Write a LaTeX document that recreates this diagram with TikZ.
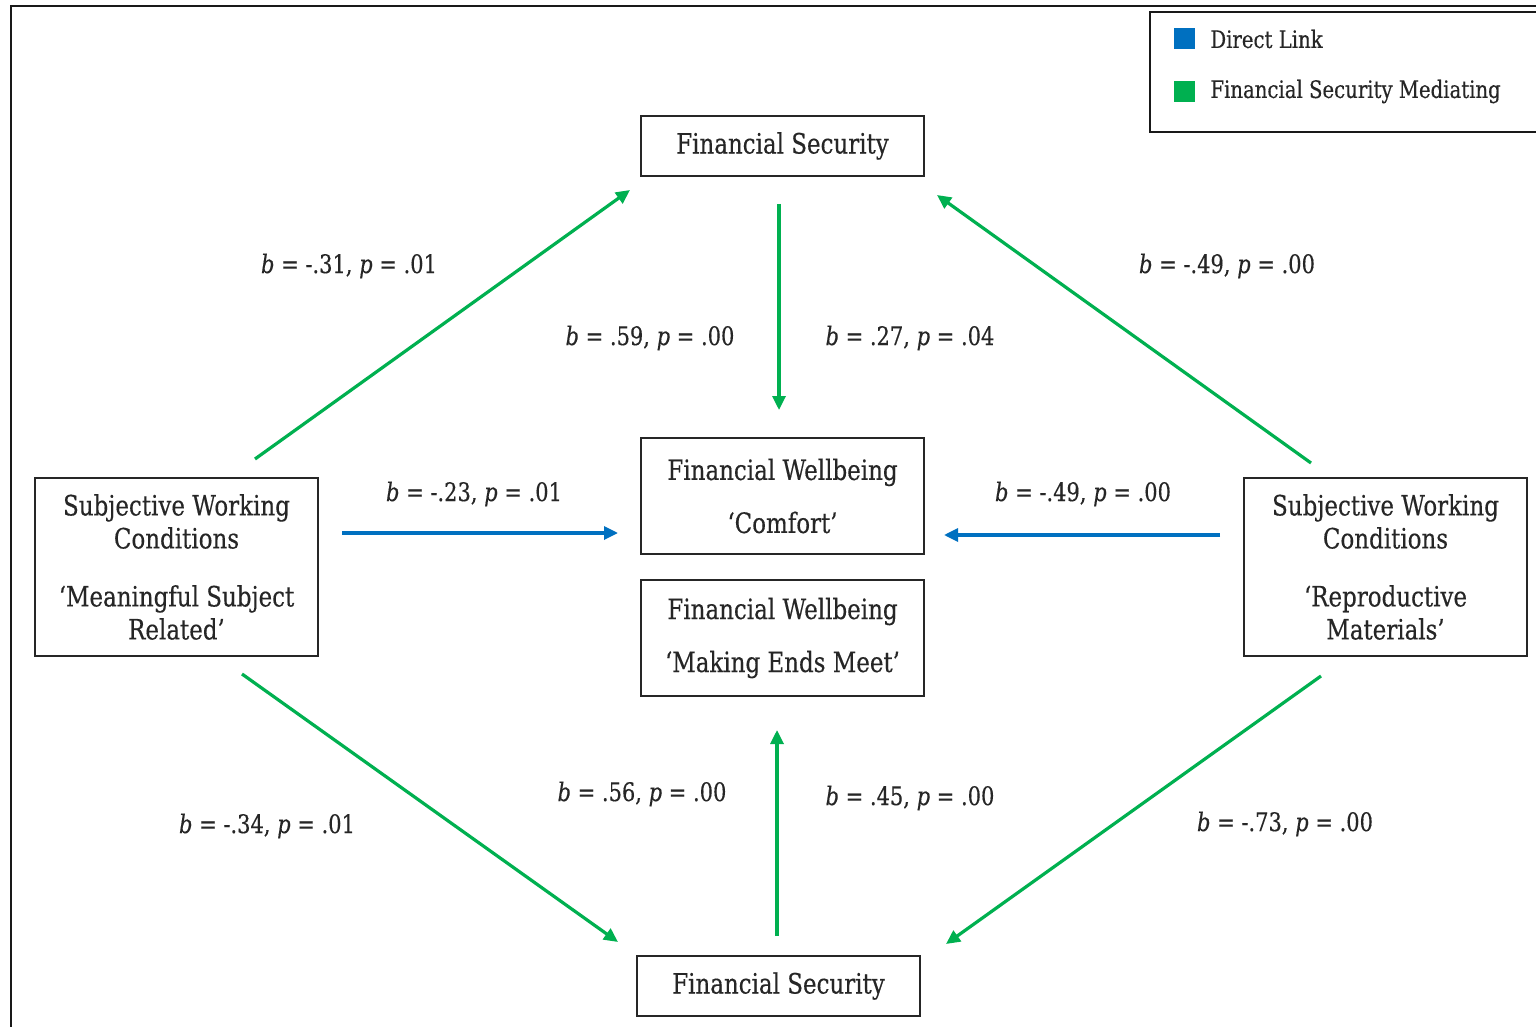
\documentclass[tikz,border=0pt]{standalone}
\usepackage{fontspec}
\setmainfont{DejaVu Serif}[FakeStretch=0.82, FakeBold=0.35]
\usetikzlibrary{arrows.meta}
\definecolor{linkblue}{HTML}{0070C0}
\definecolor{medgreen}{HTML}{00B050}
\definecolor{inkgrey}{HTML}{262626}
\begin{document}
\begin{tikzpicture}[x=0.5pt,y=-0.5pt,
  box/.style={draw=black!85, line width=1pt, minimum width=141.5pt, inner sep=0pt,
    align=center, text=inkgrey, font=\fontsize{14}{16.5}\selectfont},
  coef/.style={font=\fontsize{12.8}{14}\selectfont, inner sep=0pt, text=inkgrey},
  keytext/.style={font=\fontsize{12}{14}\selectfont, inner sep=0pt, anchor=west, text=inkgrey},
  keysq/.style={inner sep=0pt, minimum size=10.5pt},
  medarrow/.style={draw=medgreen, line width=1.6pt, -{Triangle[length=7pt,width=6.5pt]}},
  directarrow/.style={draw=linkblue, line width=1.6pt, -{Triangle[length=7pt,width=6.5pt]}}]

% page area and outer frame
\clip (0,0) rectangle (1536,1027);
\fill[white] (0,0) rectangle (1536,1027);
\draw[line width=1.3pt, black!90] (11,1100) -- (11,6) -- (1600,6);

% legend
\draw[line width=1pt, black!90] (1600,12) -- (1150,12) -- (1150,132) -- (1600,132);
\node[keysq, fill=linkblue] (keyblue) at (1184.5,39) {};
\node[keysq, fill=medgreen] (keygreen) at (1184.5,91.5) {};
\node[keytext] (keybluetxt) at (1210,39) {Direct Link};
\node[keytext] (keygreentxt) at (1210,91.5) {Financial Security Mediating};

% boxes
\node[box, minimum height=30pt] (fstop) at (782.5,146) {Financial Security};
\node[box, minimum height=58pt] (comfort) at (782.5,496)
  {Financial Wellbeing\\[10pt]‘Comfort’};
\node[box, minimum height=58pt] (ends) at (782.5,638)
  {Financial Wellbeing\\[10pt]‘Making Ends Meet’};
\node[box, minimum height=30pt] (fsbot) at (778.5,986) {Financial Security};
\node[box, minimum height=89pt] (meaning) at (176.5,567)
  {Subjective Working\\Conditions\\[12.5pt]‘Meaningful Subject\\Related’};
\node[box, minimum height=89pt] (repro) at (1385.5,567)
  {Subjective Working\\Conditions\\[12.5pt]‘Reproductive\\Materials’};

% arrow end points
\coordinate (m1s) at (255,459);  \coordinate (m1e) at (630,190);
\coordinate (r1s) at (1311,463); \coordinate (r1e) at (937,195);
\coordinate (t1s) at (779,204);  \coordinate (t1e) at (779,410);
\coordinate (b1s) at (777,936);  \coordinate (b1e) at (777,730);
\coordinate (m2s) at (242,674);  \coordinate (m2e) at (618,942);
\coordinate (r2s) at (1321,676); \coordinate (r2e) at (946,944);
\coordinate (d1s) at (342,533);  \coordinate (d1e) at (618,533);
\coordinate (d2s) at (1220,535); \coordinate (d2e) at (944,535);

% mediated paths
\draw[medarrow] (m1s) -- (m1e);
\draw[medarrow] (r1s) -- (r1e);
\draw[medarrow] (t1s) -- (t1e);
\draw[medarrow] (b1s) -- (b1e);
\draw[medarrow] (m2s) -- (m2e);
\draw[medarrow] (r2s) -- (r2e);
% direct paths
\draw[directarrow] (d1s) -- (d1e);
\draw[directarrow] (d2s) -- (d2e);

% coefficients
\node[coef] (c1) at (349,266) {\textit{b} = -.31, \textit{p} = .01};
\node[coef] (c2) at (1227,266) {\textit{b} = -.49, \textit{p} = .00};
\node[coef] (c3) at (650,338) {\textit{b} = .59, \textit{p} = .00};
\node[coef] (c4) at (910,338) {\textit{b} = .27, \textit{p} = .04};
\node[coef] (c5) at (474,494) {\textit{b} = -.23, \textit{p} = .01};
\node[coef] (c6) at (1083,494) {\textit{b} = -.49, \textit{p} = .00};
\node[coef] (c7) at (642,794) {\textit{b} = .56, \textit{p} = .00};
\node[coef] (c8) at (910,798) {\textit{b} = .45, \textit{p} = .00};
\node[coef] (c9) at (267,826) {\textit{b} = -.34, \textit{p} = .01};
\node[coef] (c10) at (1285,824) {\textit{b} = -.73, \textit{p} = .00};
\end{tikzpicture}
\end{document}
